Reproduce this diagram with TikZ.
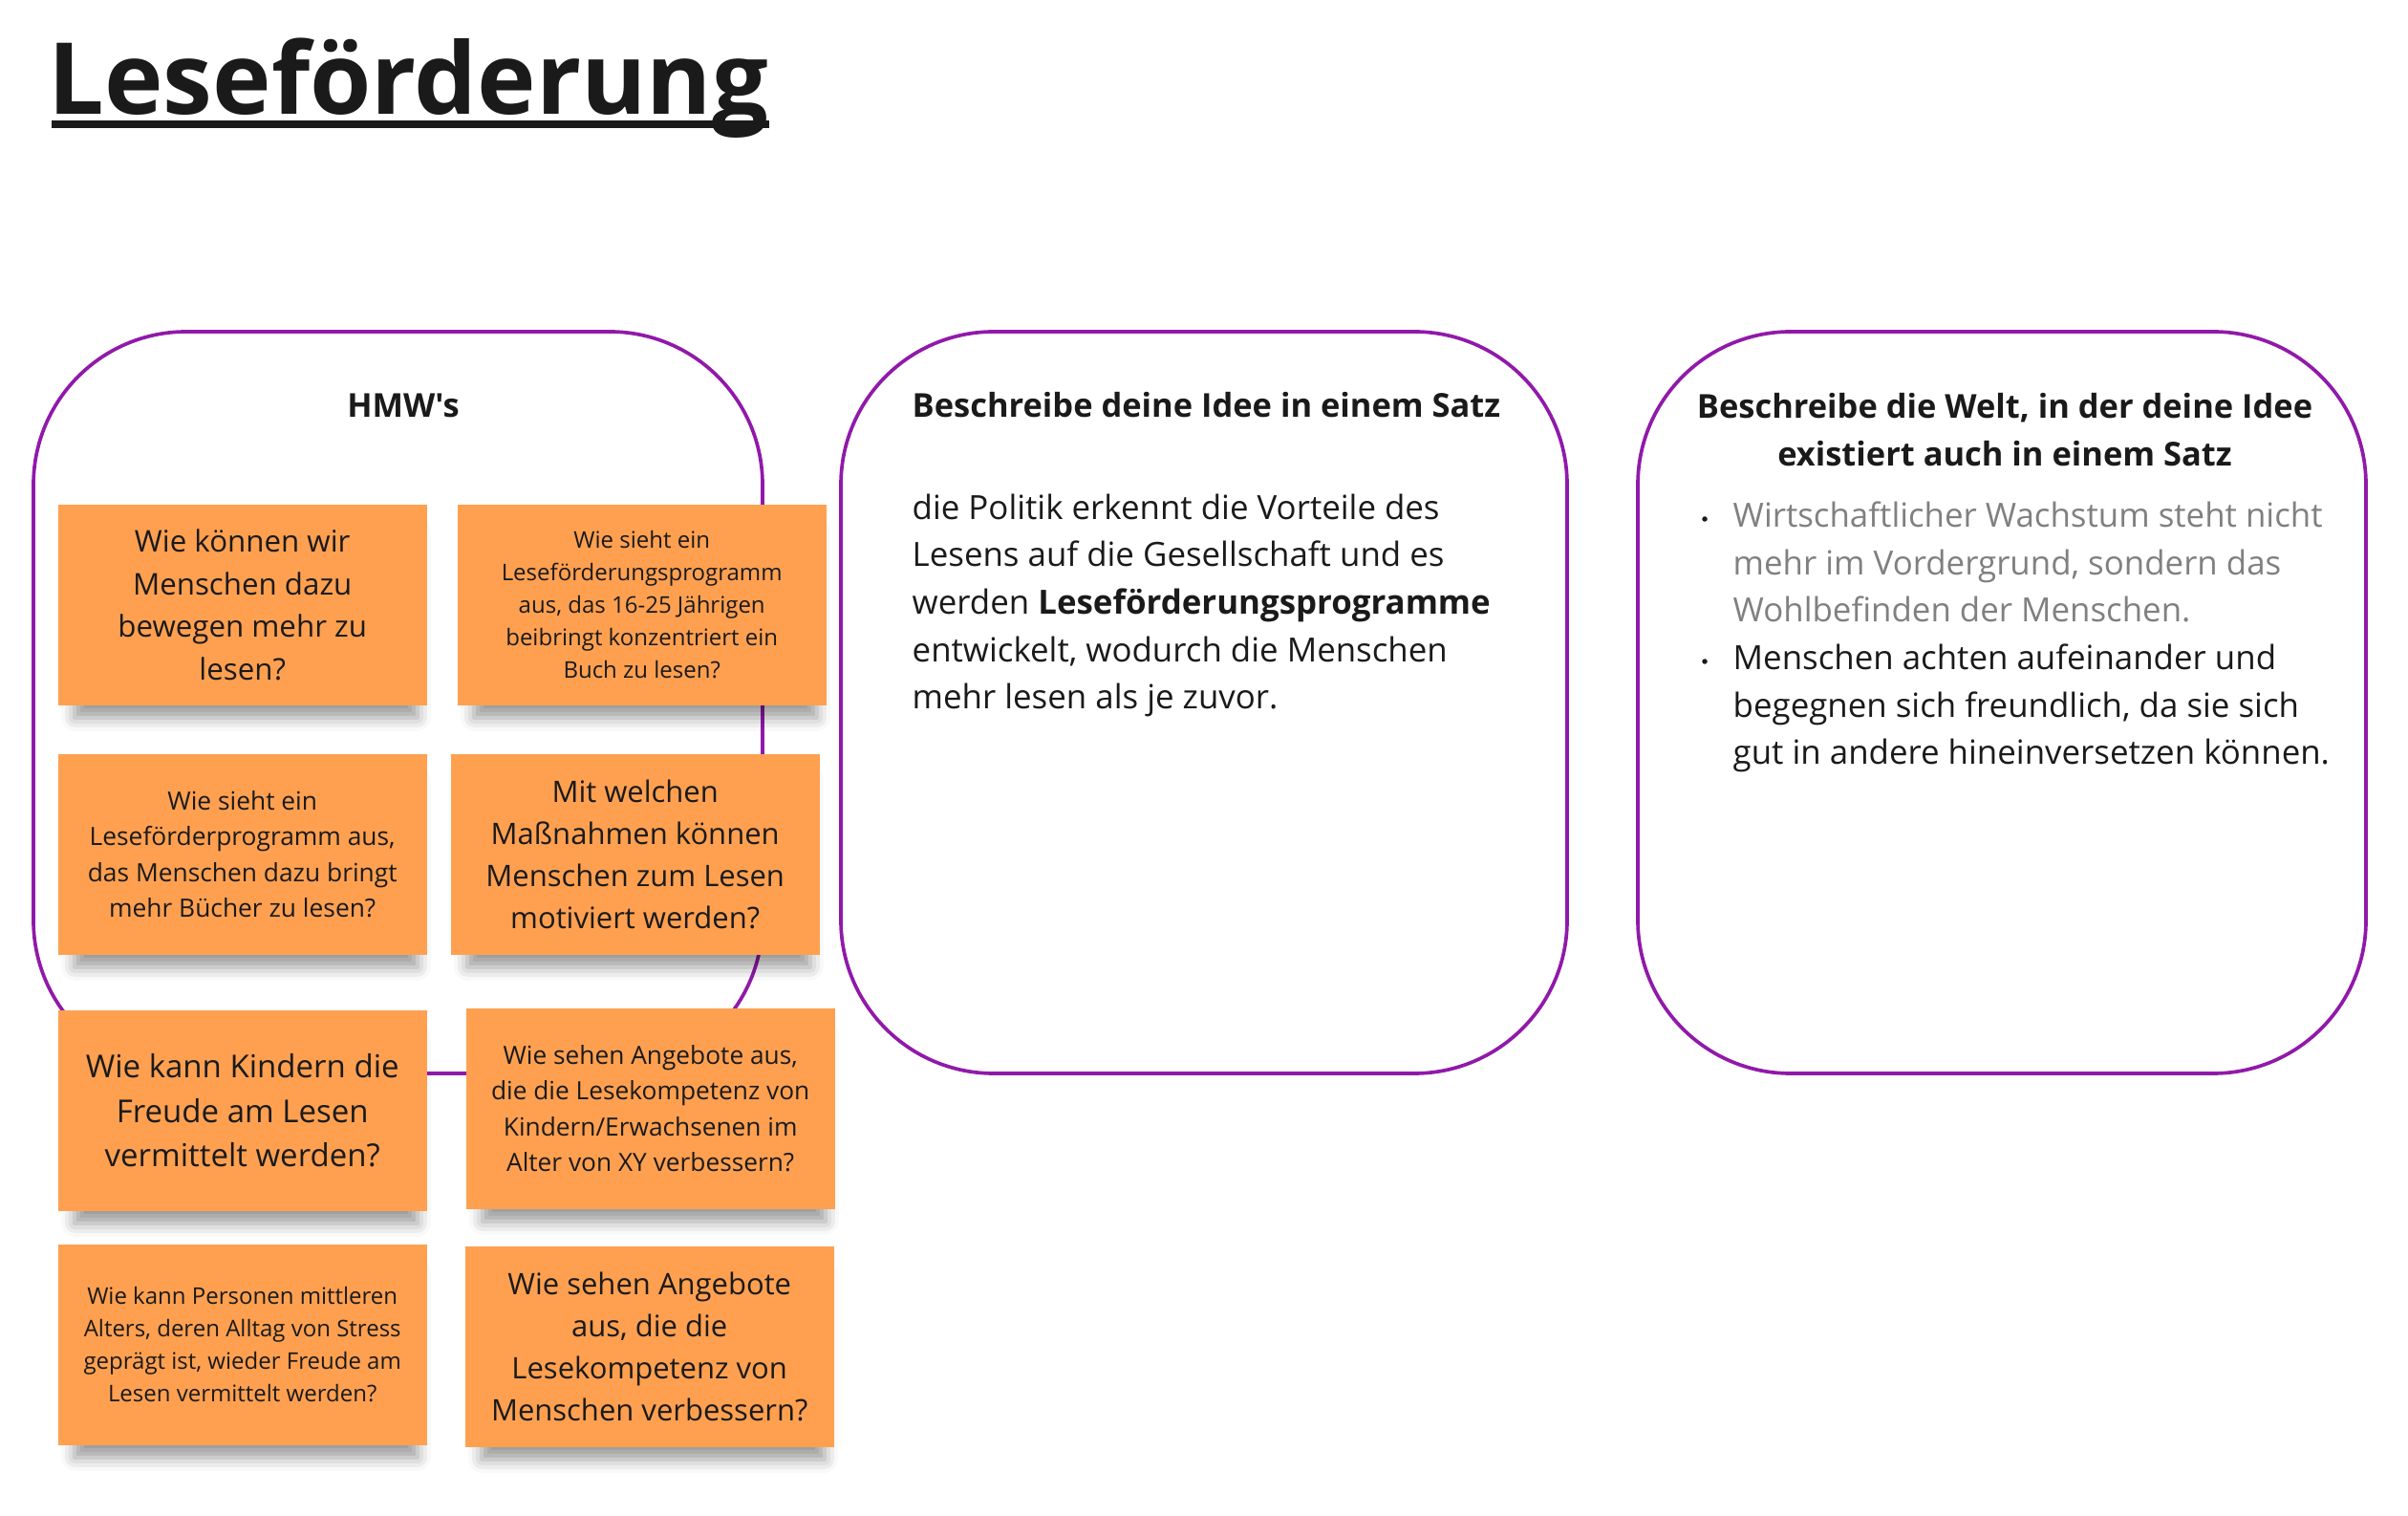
\documentclass[tikz,border=0pt]{standalone}
\usepackage{fontspec}
\setmainfont{Open Sans}[Ligatures=TeXOff]
\usepackage{tikz}
\usetikzlibrary{calc,shadows.blur}
\definecolor{panelpurple}{RGB}{145,25,170}
\definecolor{noteorange}{RGB}{254,160,80}
\definecolor{inkdark}{RGB}{26,26,26}
\definecolor{inkgray}{RGB}{128,128,128}
\newcommand{\nfont}[2]{\fontsize{#1}{#2}\selectfont}
\tikzset{
  panel/.style={draw=panelpurple, line width=1.05pt, rounded corners=1.6cm},
  note/.style={fill=noteorange, text=inkdark, align=center, anchor=north west,
    minimum width=3.86cm, minimum height=2.10cm, inner sep=0pt,
    blur shadow={shadow xshift=0.04cm, shadow yshift=-0.22cm, shadow scale=0.93,
      shadow blur radius=0.15cm, shadow opacity=40}},
  headtext/.style={text=inkdark, align=center, inner sep=0pt, anchor=base,
    font=\nfont{9.8}{14.5}\bfseries},
  bodytext/.style={text=inkdark, align=left, inner sep=0pt, anchor=base west,
    font=\nfont{9.92}{14.14}},
  bulletdot/.style={circle, fill=inkdark, inner sep=0pt, minimum size=0.055cm},
}

\begin{document}
\begin{tikzpicture}
    \useasboundingbox (0,0) rectangle (25.2,-15.86);

    % title
    \node[anchor=base west, inner sep=0pt, text=inkdark, font=\nfont{29.6}{34}\bfseries] (title) at (0.50,-1.20) {Leseförderung};
    \draw[inkdark, line width=2.3pt] ($(title.base west)+(0.04,-0.10)$) -- ($(title.base east)+(0,-0.10)$);

    % panels
    \draw[panel] (0.35,-3.47) rectangle (7.98,-11.23);
    \draw[panel] (8.80,-3.47) rectangle (16.40,-11.23);
    \draw[panel] (17.14,-3.47) rectangle (24.76,-11.23);

    % base anchor of a multi-line node = baseline of its last line
    \node[headtext] (hmw) at (4.22,-4.37) {HMW's};
    \node[headtext, anchor=base west] (idee) at (9.54,-4.37) {Beschreibe deine Idee in einem Satz};
    \node[headtext] (welt) at (20.98,-4.88) {Beschreibe die Welt, in der deine Idee\\existiert auch in einem Satz};

    \node[bodytext] (satz) at (9.54,-7.42) {die Politik erkennt die Vorteile des\\Lesens auf die Gesellschaft und es\\werden \textbf{Leseförderungsprogramme}\\entwickelt, wodurch die Menschen\\mehr lesen als je zuvor.};

    \node[bodytext, text=inkgray] (welt1) at (18.13,-6.51) {Wirtschaftlicher Wachstum steht nicht\\mehr im Vordergrund, sondern das\\Wohlbefinden der Menschen.};
    \node[bodytext] (welt2) at (18.13,-8.00) {Menschen achten aufeinander und\\begegnen sich freundlich, da sie sich\\gut in andere hineinversetzen können.};
    \node[bulletdot] (dot1) at (17.84,-5.43) {};
    \node[bulletdot] (dot2) at (17.84,-6.92) {};

    % sticky notes
    \node[note, font=\nfont{8.9}{12.66}] (n1) at (0.60,-5.27) {Wie können wir\\Menschen dazu\\bewegen mehr zu\\lesen?};
    \node[note, font=\nfont{6.83}{9.67}] (n2) at (4.78,-5.27) {Wie sieht ein\\Leseförderungsprogramm\\aus, das 16-25 Jährigen\\beibringt konzentriert ein\\Buch zu lesen?};
    \node[note, font=\nfont{7.5}{10.67}] (n3) at (0.60,-7.88) {Wie sieht ein\\Leseförderprogramm aus,\\das Menschen dazu bringt\\mehr Bücher zu lesen?};
    \node[note, font=\nfont{8.82}{12.52}] (n4) at (4.71,-7.88) {Mit welchen\\Maßnahmen können\\Menschen zum Lesen\\motiviert werden?};
    \node[note, font=\nfont{9.39}{13.37}] (n5) at (0.60,-10.56) {Wie kann Kindern die\\Freude am Lesen\\vermittelt werden?};
    \node[note, font=\nfont{7.48}{10.6}] (n6) at (4.87,-10.54) {Wie sehen Angebote aus,\\die die Lesekompetenz von\\Kindern/Erwachsenen im\\Alter von XY verbessern?};
    \node[note, font=\nfont{6.83}{9.67}] (n7) at (0.60,-13.01) {Wie kann Personen mittleren\\Alters, deren Alltag von Stress\\geprägt ist, wieder Freude am\\Lesen vermittelt werden?};
    \node[note, font=\nfont{8.82}{12.52}] (n8) at (4.86,-13.03) {Wie sehen Angebote\\aus, die die\\Lesekompetenz von\\Menschen verbessern?};
\end{tikzpicture}
\end{document}
